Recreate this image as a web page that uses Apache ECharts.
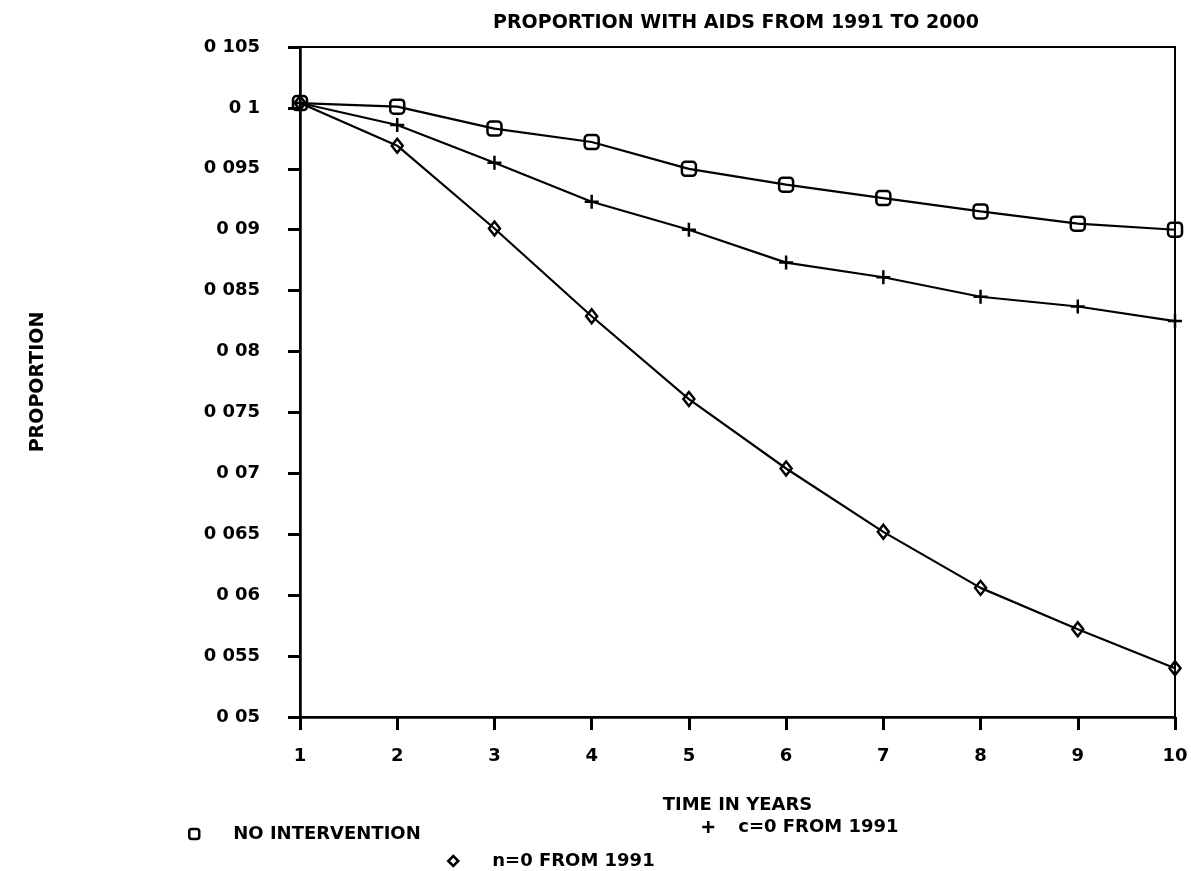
<!DOCTYPE html>
<html>
<head>
<meta charset="utf-8">
<script src="https://cdn.jsdelivr.net/npm/echarts@6/dist/echarts.min.js"></script>
<style>
  html, body { margin: 0; padding: 0; background: #fff; }
  #chart { width: 1191px; height: 871px; }
</style>
</head>
<body>
<div id="chart"></div>
<script>
// years since 1991
const years = [1, 2, 3, 4, 5, 6, 7, 8, 9, 10]
const noIntervention = [0.1004, 0.1001, 0.0983, 0.0972, 0.0950, 0.0937, 0.0926, 0.0915, 0.0905, 0.0900]
const cZero = [0.1004, 0.0986, 0.0955, 0.0923, 0.0900, 0.0873, 0.0861, 0.0845, 0.0837, 0.0825]
const nZero = [0.1004, 0.0969, 0.0901, 0.0829, 0.0761, 0.0704, 0.0652, 0.0606, 0.0572, 0.0540]
const seriesNames = ['NO INTERVENTION', 'c=0 FROM 1991', 'n=0 FROM 1991']

const FONT = 'DejaVu Sans'
const plusPath = 'path://M5 0L5 10M0 5L10 5'

const toPoints = (vals) => years.map((t, i) => [t, vals[i]])

const chart = echarts.init(document.getElementById('chart'), null, { renderer: 'canvas' })

const hollow = { color: 'transparent', borderColor: '#000', borderWidth: 2.5 }

const legendItem = (name, icon, left, top, size, gap) => ({
    data: [name],
    left: left,
    top: top,
    padding: 0,
    icon: icon,
    itemWidth: size,
    itemHeight: size,
    selectedMode: false,
    itemStyle: hollow,
    textStyle: {
        fontFamily: FONT,
        fontSize: 18,
        fontWeight: 'bold',
        color: '#000',
        padding: [0, 0, 0, gap]
    }
})

const option = {
    animation: false,
    backgroundColor: '#fff',
    textStyle: { fontFamily: FONT, color: '#000' },
    title: {
        text: 'PROPORTION WITH AIDS FROM 1991 TO 2000',
        left: 493,
        top: 14,
        padding: 0,
        textStyle: { fontFamily: FONT, fontSize: 19, fontWeight: 'bold', color: '#000' }
    },
    grid: {
        left: 300,
        right: 16,
        top: 47,
        bottom: 154,
        show: true,
        borderColor: '#000',
        borderWidth: 2
    },
    legend: [
        legendItem(seriesNames[0], 'roundRect', 188, 825, 10, 29),
        legendItem(seriesNames[1], plusPath, 701, 818, 12, 19),
        legendItem(seriesNames[2], 'diamond', 447, 852, 10, 29)
    ],
    xAxis: {
        type: 'value',
        min: 1,
        max: 10,
        interval: 1,
        name: 'TIME IN YEARS',
        nameLocation: 'middle',
        nameGap: 79,
        nameTextStyle: { fontFamily: FONT, fontSize: 18, fontWeight: 'bold', color: '#000' },
        splitLine: { show: false },
        axisLine: { lineStyle: { color: '#000', width: 2.5 } },
        axisTick: { length: 13, lineStyle: { color: '#000', width: 3 } },
        axisLabel: { margin: 30, fontFamily: FONT, fontSize: 18, fontWeight: 'bold', color: '#000' }
    },
    yAxis: {
        type: 'value',
        min: 0.05,
        max: 0.105,
        interval: 0.005,
        name: 'PROPORTION',
        nameLocation: 'middle',
        nameRotate: 90,
        nameGap: 252,
        nameTextStyle: { fontFamily: FONT, fontSize: 19, fontWeight: 'bold', color: '#000' },
        splitLine: { show: false },
        axisLine: { lineStyle: { color: '#000', width: 2.5 } },
        axisTick: { length: 12, lineStyle: { color: '#000', width: 3 } },
        axisLabel: {
            margin: 40,
            fontFamily: FONT,
            fontSize: 18,
            fontWeight: 'bold',
            color: '#000',
            // the printed labels show a gap where the decimal point should be
            formatter: (v) => String(Number(v.toFixed(3))).replace('.', ' ')
        }
    },
    series: [
        {
            name: seriesNames[0],
            type: 'line',
            data: toPoints(noIntervention),
            symbol: 'roundRect',
            symbolSize: 14,
            itemStyle: hollow,
            lineStyle: { color: '#000', width: 2.2 },
            z: 3
        },
        {
            name: seriesNames[1],
            type: 'line',
            data: toPoints(cZero),
            symbol: plusPath,
            symbolSize: 14,
            itemStyle: hollow,
            lineStyle: { color: '#000', width: 2.2 },
            z: 2
        },
        {
            name: seriesNames[2],
            type: 'line',
            data: toPoints(nZero),
            symbol: 'diamond',
            symbolSize: [11, 14],
            itemStyle: hollow,
            lineStyle: { color: '#000', width: 2.2 },
            z: 1
        }
    ]
}

chart.setOption(option)
</script>
</body>
</html>
